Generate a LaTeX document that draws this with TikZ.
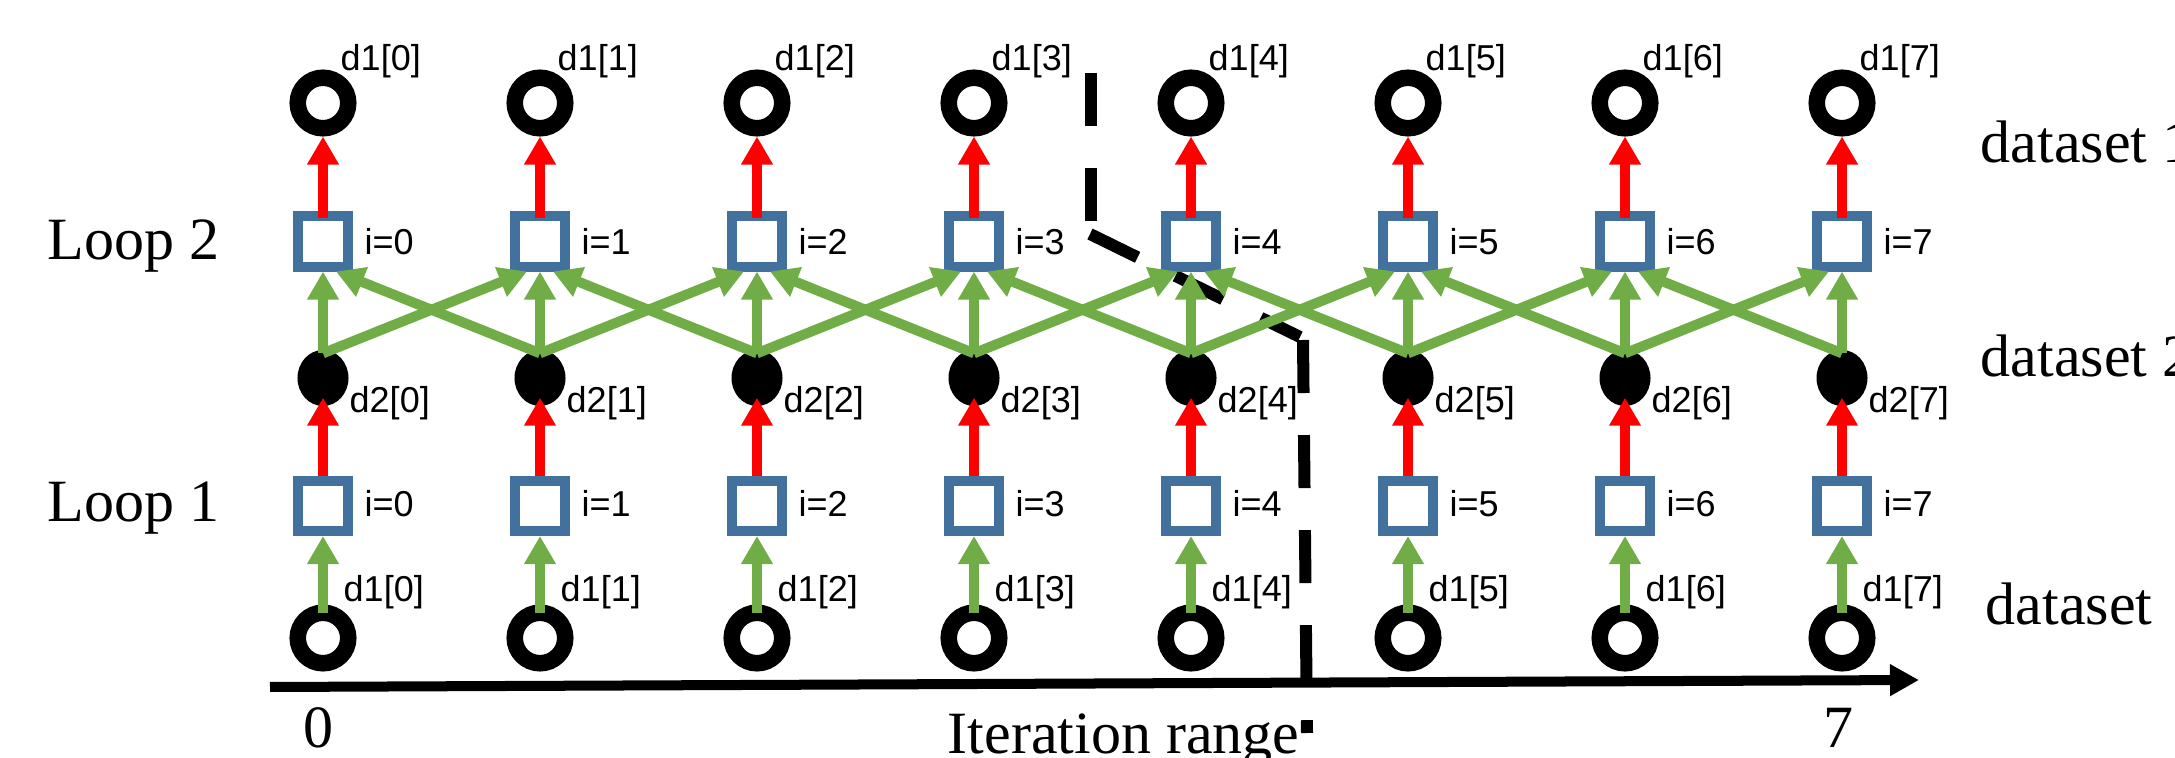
\documentclass[tikz,border=0pt]{standalone}
\usepackage{fontspec}
\setmainfont{Liberation Serif}
\newfontfamily\arialfont{Liberation Sans}
\usetikzlibrary{arrows.meta,shapes.geometric}
\definecolor{sqblue}{RGB}{65,113,156}
\definecolor{agreen}{RGB}{112,173,71}
\definecolor{ared}{RGB}{255,0,0}
\begin{document}
\begin{tikzpicture}[x=0.01cm,y=-0.01cm,
  ring/.style={circle,draw=black,fill=white,line width=0.165cm,minimum size=0.505cm,inner sep=0pt},
  dot/.style={ellipse,fill=black,minimum width=0.51cm,minimum height=0.56cm,inner sep=0pt},
  sqnode/.style={rectangle,draw=sqblue,fill=white,line width=0.1cm,minimum size=0.5cm,inner sep=0pt},
  lab/.style={inner sep=0pt,anchor=base west,font=\arialfont\fontsize{10.24pt}{12pt}\selectfont},
  big/.style={inner sep=0pt,font=\fontsize{17.07pt}{20pt}\selectfont},
  tip/.style={-{Triangle[width=0.3cm,length=0.28cm]}},
  rarrow/.style={tip,draw=ared,fill=ared,line width=0.1cm},
  garrow/.style={tip,draw=agreen,fill=agreen,line width=0.1cm},
  dashline/.style={draw=black,line width=0.12cm,dash pattern=on 0.53cm off 0.42cm},
  axisline/.style={-{Triangle[width=0.3cm,length=0.29cm]},draw=black,fill=black,line width=0.1cm}]
\useasboundingbox (0,0) rectangle (2175,758);

% dashed split line
\coordinate (s1) at (1091,73);
\coordinate (s2) at (1091,225);
\coordinate (s3) at (1090,234);
\coordinate (s4) at (1300,337);
\coordinate (s5) at (1303,340);
\coordinate (s6) at (1307,733);
\draw[dashline] (s1) -- (s2);
\draw[dashline] (s3) -- (s4);
\draw[dashline] (s5) -- (s6);

% axis
\coordinate (ax0) at (270,687);
\coordinate (ax1) at (1919,680);
\draw[axisline] (ax0) -- (ax1);

% nodes
\foreach \k in {0,...,7} {
  \pgfmathsetmacro\xx{323+217*\k}
  \node[ring] (t\k) at (\xx,103) {};
  \node[lab] (lt\k) at (\xx+17,71) {d1[\k]};
  \node[sqnode] (a\k) at (\xx,241.5) {};
  \node[lab] (la\k) at (\xx+41,255) {i=\k};
  \node[dot] (m\k) at (\xx,378) {};
  \node[lab] (lm\k) at (\xx+26,413) {d2[\k]};
  \node[sqnode] (b\k) at (\xx,506) {};
  \node[lab] (lb\k) at (\xx+41,517) {i=\k};
  \node[ring] (u\k) at (\xx,638) {};
  \node[lab] (lu\k) at (\xx+20,602) {d1[\k]};
}

% connectors
\foreach \k in {0,...,7} {
  \draw[rarrow] ([yshift=-0.07cm]a\k.north) -- (t\k.south);
  \draw[rarrow] (b\k.north) -- ([yshift=0.09cm]m\k.south);
  \draw[garrow] ([yshift=-0.09cm]u\k.north) -- (b\k.south);
  \draw[garrow] ([yshift=-0.04cm]m\k.north) -- (a\k.south);
}
\foreach \k [evaluate=\k as \n using int(\k+1)] in {0,...,6} {
  \draw[garrow] ([yshift=-0.04cm]m\k.north) -- ([xshift=-0.13cm]a\n.south);
  \draw[garrow] ([yshift=-0.04cm]m\n.north) -- ([xshift=0.13cm]a\k.south);
}

% texts
\node[big,anchor=base west] (loop2) at (47,260) {Loop 2};
\node[big,anchor=base west] (loop1) at (47,522) {Loop 1};
\node[big,anchor=base west] (ds1) at (1980,163) {dataset 1};
\node[big,anchor=base west] (ds2) at (1980,377) {dataset 2};
\node[big,anchor=base west] (ds0) at (1985,625) {dataset};
\node[big,anchor=base] (zero) at (319,748) {0};
\node[big,anchor=base] (seven) at (1838,748) {7};
\node[big,anchor=base west] (iter) at (947,754) {Iteration range};
\end{tikzpicture}
\end{document}
